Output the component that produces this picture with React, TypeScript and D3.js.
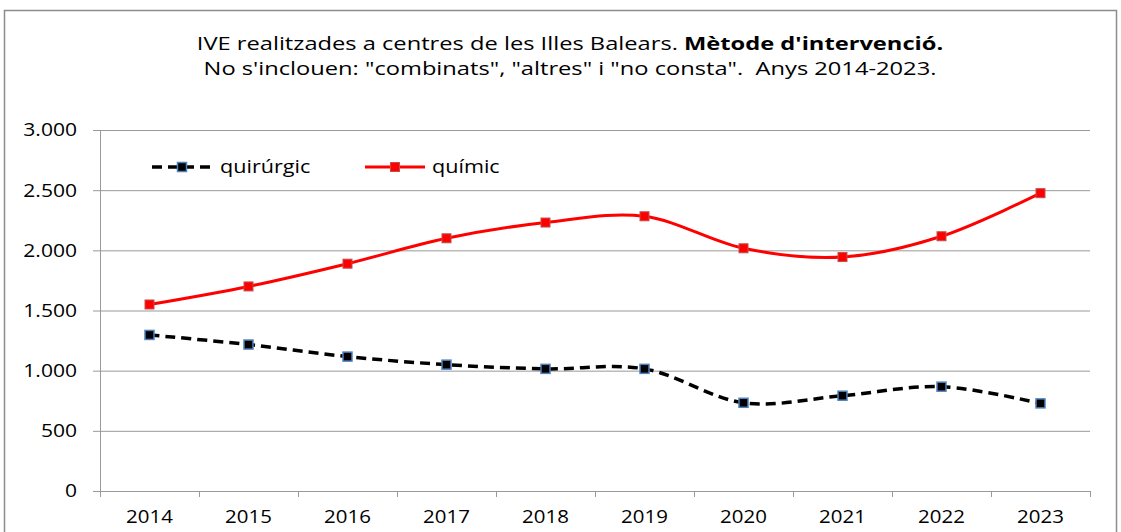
import React from "react";
import * as d3 from "d3";

const years = ["2014","2015","2016","2017","2018","2019","2020","2021","2022","2023"];
const quirurgic = [1297, 1217, 1117, 1050, 1015, 1015, 733, 792, 867, 728];
const quimic = [1550, 1700, 1889, 2100, 2231, 2283, 2017, 1944, 2117, 2475];
const yTicks = [0, 500, 1000, 1500, 2000, 2500, 3000];
const titleLine1a = "IVE realitzades a centres de les Illes Balears. ";
const titleLine1b = "Mètode d'intervenció.";
const titleLine2 = "No s'inclouen: \"combinats\", \"altres\" i \"no consta\".  Anys 2014-2023.";
const seriesNames = ["quirúrgic", "químic"];

const W = 1121, H = 532;
const left = 100, right = 1090, top = 130, bottom = 491;
const FONT = "'Open Sans', 'Noto Sans', sans-serif";

function T(props: { x: number; y: number; sx: number; size: number; anchor?: string; children: React.ReactNode; dy?: string }) {
  return (
    <text
      transform={`translate(${props.x},${props.y}) scale(${props.sx},1)`}
      textAnchor={props.anchor || "start"}
      fontSize={props.size}
      dy={props.dy}
      fill="#000"
      style={{ whiteSpace: "pre" }}
    >
      {props.children}
    </text>
  );
}

export default function App() {
  const x = d3.scaleBand<string>().domain(years).range([left, right]);
  const y = d3.scaleLinear().domain([0, 3000]).range([bottom, top]);
  const cx = (d: string) => (x(d) as number) + x.bandwidth() / 2;
  const line = d3
    .line<number>()
    .x((_, i) => cx(years[i]))
    .y((v) => y(v))
    .curve(d3.curveCardinal.tension(0));
  const fmt = (v: number) => d3.format(",")(v).replace(/,/g, ".");
  const ms = 9;
  return (
    <svg width={W} height={H} style={{ position: "absolute", left: 0, top: 0, background: "#fff" }} fontFamily={FONT}>
      <rect x={4.5} y={10.5} width={1112} height={540} fill="#fff" stroke="#8c8c8c" strokeWidth={1.5} />
      <T x={570} y={50} sx={1.28} size={18.5} anchor="middle">
        {titleLine1a}
        <tspan fontWeight="bold">{titleLine1b}</tspan>
      </T>
      <T x={570} y={75} sx={1.28} size={18.5} anchor="middle">{titleLine2}</T>
      {yTicks.map((t) => (
        <g key={t}>
          {t > 0 && <line x1={left} x2={right} y1={y(t) + 0.5} y2={y(t) + 0.5} stroke="#999" strokeWidth={1} />}
          <line x1={left - 7} x2={left} y1={y(t) + 0.5} y2={y(t) + 0.5} stroke="#999" strokeWidth={1} />
          <T x={77} y={y(t)} dy="0.36em" sx={1.17} size={18} anchor="end">{fmt(t)}</T>
        </g>
      ))}
      <line x1={left + 0.5} x2={left + 0.5} y1={top} y2={bottom} stroke="#999" strokeWidth={1} />
      <line x1={left} x2={right} y1={bottom + 0.5} y2={bottom + 0.5} stroke="#999" strokeWidth={1} />
      {years.map((yr, i) => (
        <g key={yr}>
          <line x1={(x(yr) as number) + 0.5} x2={(x(yr) as number) + 0.5} y1={bottom} y2={bottom + 6} stroke="#999" />
          {i === years.length - 1 && <line x1={right + 0.5} x2={right + 0.5} y1={bottom} y2={bottom + 6} stroke="#999" />}
          <T x={cx(yr)} y={517} dy="0.36em" sx={1.17} size={17.5} anchor="middle">{yr}</T>
        </g>
      ))}
      <path d={line(quimic) || ""} fill="none" stroke="#ff0000" strokeWidth={3} />
      <path d={line(quirurgic) || ""} fill="none" stroke="#000" strokeWidth={3.5} strokeDasharray="10,6" />
      {quimic.map((v, i) => (
        <rect key={"r" + i} x={cx(years[i]) - ms / 2} y={y(v) - ms / 2} width={ms} height={ms} fill="#ff0000" stroke="#c0504d" strokeWidth={1} />
      ))}
      {quirurgic.map((v, i) => (
        <rect key={"b" + i} x={cx(years[i]) - ms / 2} y={y(v) - ms / 2} width={ms} height={ms} fill="#000" stroke="#4f81bd" strokeWidth={1.5} />
      ))}
      <g>
        <line x1={152} x2={212} y1={167} y2={167} stroke="#000" strokeWidth={3.5} strokeDasharray="10,6" />
        <rect x={182 - ms / 2} y={167 - ms / 2} width={ms} height={ms} fill="#000" stroke="#4f81bd" strokeWidth={1.5} />
        <T x={220} y={167} dy="0.36em" sx={1.2} size={18}>{seriesNames[0]}</T>
        <line x1={365} x2={425} y1={167} y2={167} stroke="#ff0000" strokeWidth={3} />
        <rect x={395 - ms / 2} y={167 - ms / 2} width={ms} height={ms} fill="#ff0000" stroke="#c0504d" strokeWidth={1} />
        <T x={432} y={167} dy="0.36em" sx={1.2} size={18}>{seriesNames[1]}</T>
      </g>
    </svg>
  );
}
